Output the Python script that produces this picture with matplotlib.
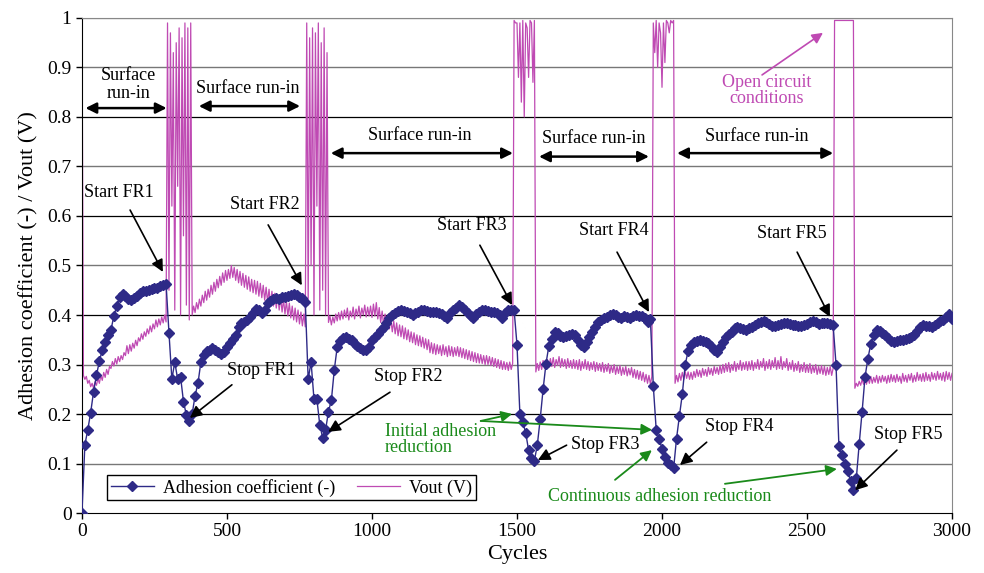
import numpy as np
import matplotlib
matplotlib.use("Agg")
import matplotlib.pyplot as plt

plt.rcParams['font.family'] = ['Liberation Serif', 'DejaVu Serif']

# adhesion coefficient, one reading every 10 cycles (0 ... 3000)
adh_cycles = np.arange(0, 3001, 10)
adhesion = [
    0.000, 0.138, 0.168, 0.203, 0.245, 0.278, 0.307, 0.329, 0.346, 0.360,
    0.370, 0.398, 0.418, 0.437, 0.443, 0.438, 0.432, 0.430, 0.434, 0.438,
    0.445, 0.448, 0.449, 0.450, 0.452, 0.454, 0.455, 0.458, 0.460, 0.463,
    0.364, 0.270, 0.305, 0.270, 0.275, 0.225, 0.198, 0.185, 0.200, 0.237,
    0.262, 0.305, 0.320, 0.327, 0.330, 0.333, 0.330, 0.326, 0.322, 0.325,
    0.335, 0.343, 0.352, 0.360, 0.375, 0.384, 0.386, 0.389, 0.395, 0.405,
    0.412, 0.410, 0.404, 0.410, 0.424, 0.428, 0.432, 0.434, 0.432, 0.436,
    0.437, 0.438, 0.440, 0.443, 0.440, 0.436, 0.434, 0.427, 0.270, 0.305,
    0.230, 0.230, 0.178, 0.152, 0.168, 0.205, 0.228, 0.289, 0.335, 0.348,
    0.353, 0.356, 0.352, 0.349, 0.342, 0.337, 0.333, 0.330, 0.329, 0.335,
    0.350, 0.355, 0.362, 0.370, 0.375, 0.383, 0.393, 0.400, 0.405, 0.408,
    0.410, 0.409, 0.406, 0.404, 0.400, 0.404, 0.407, 0.410, 0.410, 0.408,
    0.407, 0.407, 0.406, 0.404, 0.402, 0.398, 0.394, 0.404, 0.410, 0.415,
    0.420, 0.416, 0.410, 0.404, 0.398, 0.394, 0.402, 0.407, 0.410, 0.410,
    0.408, 0.407, 0.406, 0.405, 0.400, 0.394, 0.405, 0.410, 0.411, 0.410,
    0.340, 0.200, 0.183, 0.162, 0.127, 0.112, 0.106, 0.137, 0.190, 0.250,
    0.302, 0.338, 0.352, 0.366, 0.364, 0.358, 0.356, 0.358, 0.360, 0.362,
    0.360, 0.350, 0.340, 0.336, 0.345, 0.356, 0.365, 0.375, 0.385, 0.390,
    0.393, 0.396, 0.400, 0.402, 0.400, 0.395, 0.393, 0.397, 0.395, 0.393,
    0.397, 0.400, 0.397, 0.397, 0.393, 0.385, 0.391, 0.257, 0.168, 0.150,
    0.130, 0.114, 0.102, 0.096, 0.090, 0.150, 0.196, 0.240, 0.300, 0.327,
    0.340, 0.345, 0.348, 0.349, 0.347, 0.345, 0.343, 0.338, 0.330, 0.326,
    0.335, 0.345, 0.356, 0.362, 0.366, 0.373, 0.376, 0.373, 0.371, 0.370,
    0.374, 0.376, 0.380, 0.383, 0.386, 0.387, 0.385, 0.381, 0.377, 0.377,
    0.380, 0.382, 0.384, 0.384, 0.382, 0.380, 0.379, 0.378, 0.378, 0.380,
    0.382, 0.385, 0.387, 0.385, 0.382, 0.383, 0.384, 0.383, 0.381, 0.380,
    0.300, 0.135, 0.118, 0.100, 0.085, 0.065, 0.046, 0.070, 0.140, 0.205,
    0.275, 0.312, 0.342, 0.360, 0.370, 0.368, 0.364, 0.360, 0.354, 0.348,
    0.346, 0.348, 0.350, 0.350, 0.352, 0.354, 0.356, 0.360, 0.368, 0.375,
    0.380, 0.378, 0.377, 0.376, 0.380, 0.384, 0.387, 0.390, 0.395, 0.403,
    0.391,
]

# output voltage, one reading every 5 cycles (0 ... 3000)
vout_cycles = np.arange(0, 3001, 5)
vout = [
    1.000, 0.278, 0.270, 0.276, 0.262, 0.268, 0.255, 0.262, 0.252, 0.265, 0.258, 0.272, 0.262, 0.278, 0.268, 0.284, 0.274, 0.290, 0.280, 0.296,
    0.292, 0.306, 0.297, 0.312, 0.301, 0.316, 0.306, 0.318, 0.310, 0.324, 0.318, 0.338, 0.322, 0.340, 0.327, 0.343, 0.333, 0.349, 0.338, 0.354,
    0.347, 0.362, 0.351, 0.366, 0.357, 0.372, 0.362, 0.378, 0.366, 0.382, 0.372, 0.390, 0.376, 0.392, 0.380, 0.396, 0.384, 0.400, 0.386, 0.990,
    0.450, 0.970, 0.620, 0.930, 0.410, 0.950, 0.660, 0.980, 0.400, 0.960, 0.560, 0.990, 0.420, 0.980, 0.390, 0.990, 0.400, 0.418, 0.405, 0.425,
    0.412, 0.432, 0.418, 0.440, 0.425, 0.448, 0.430, 0.452, 0.436, 0.460, 0.442, 0.466, 0.448, 0.472, 0.455, 0.478, 0.460, 0.485, 0.466, 0.490,
    0.470, 0.492, 0.474, 0.500, 0.476, 0.496, 0.470, 0.492, 0.465, 0.488, 0.460, 0.484, 0.456, 0.480, 0.452, 0.477, 0.448, 0.472, 0.445, 0.470,
    0.442, 0.468, 0.438, 0.464, 0.435, 0.460, 0.430, 0.456, 0.426, 0.452, 0.422, 0.448, 0.418, 0.444, 0.414, 0.440, 0.410, 0.436, 0.406, 0.432,
    0.402, 0.428, 0.398, 0.424, 0.394, 0.418, 0.390, 0.414, 0.386, 0.410, 0.382, 0.406, 0.378, 0.402, 0.376, 0.990, 0.420, 0.960, 0.500, 0.980,
    0.400, 0.970, 0.620, 0.990, 0.410, 0.950, 0.450, 0.980, 0.400, 0.930, 0.385, 0.398, 0.380, 0.396, 0.384, 0.402, 0.388, 0.405, 0.390, 0.408,
    0.392, 0.410, 0.395, 0.414, 0.390, 0.408, 0.396, 0.416, 0.392, 0.412, 0.398, 0.418, 0.394, 0.414, 0.400, 0.420, 0.396, 0.416, 0.398, 0.418,
    0.395, 0.422, 0.398, 0.425, 0.392, 0.415, 0.385, 0.408, 0.380, 0.402, 0.376, 0.398, 0.372, 0.392, 0.366, 0.388, 0.362, 0.384, 0.358, 0.380,
    0.356, 0.378, 0.352, 0.374, 0.350, 0.370, 0.346, 0.366, 0.344, 0.364, 0.340, 0.360, 0.338, 0.358, 0.336, 0.355, 0.333, 0.352, 0.330, 0.350,
    0.324, 0.344, 0.322, 0.342, 0.320, 0.340, 0.322, 0.338, 0.318, 0.340, 0.320, 0.336, 0.316, 0.338, 0.318, 0.336, 0.316, 0.334, 0.318, 0.336,
    0.316, 0.334, 0.314, 0.332, 0.312, 0.330, 0.310, 0.328, 0.308, 0.326, 0.306, 0.324, 0.304, 0.322, 0.303, 0.320, 0.302, 0.318, 0.300, 0.318,
    0.300, 0.316, 0.298, 0.314, 0.296, 0.312, 0.294, 0.310, 0.292, 0.308, 0.290, 0.306, 0.290, 0.304, 0.288, 0.305, 0.290, 0.302, 0.995, 0.990,
    0.990, 0.880, 0.990, 0.830, 0.995, 0.800, 0.990, 0.980, 0.880, 0.995, 0.990, 0.870, 0.995, 0.285, 0.302, 0.288, 0.305, 0.290, 0.308, 0.292,
    0.292, 0.310, 0.294, 0.312, 0.296, 0.314, 0.294, 0.310, 0.298, 0.316, 0.294, 0.312, 0.296, 0.310, 0.292, 0.312, 0.294, 0.308, 0.292, 0.310,
    0.292, 0.308, 0.290, 0.310, 0.288, 0.306, 0.292, 0.310, 0.290, 0.306, 0.288, 0.304, 0.290, 0.306, 0.286, 0.304, 0.288, 0.302, 0.286, 0.304,
    0.284, 0.300, 0.286, 0.302, 0.282, 0.298, 0.284, 0.300, 0.280, 0.296, 0.282, 0.298, 0.278, 0.294, 0.280, 0.296, 0.277, 0.292, 0.279, 0.294,
    0.274, 0.290, 0.272, 0.288, 0.270, 0.286, 0.268, 0.284, 0.265, 0.280, 0.262, 0.278, 0.260, 0.276, 0.990, 0.930, 0.995, 0.900, 0.990, 0.970,
    0.860, 0.990, 0.910, 0.995, 0.990, 0.970, 0.995, 0.990, 0.995, 0.262, 0.278, 0.265, 0.282, 0.268, 0.284, 0.270, 0.286, 0.272, 0.285, 0.270,
    0.284, 0.270, 0.286, 0.274, 0.290, 0.276, 0.288, 0.274, 0.292, 0.278, 0.290, 0.276, 0.294, 0.280, 0.292, 0.278, 0.296, 0.282, 0.294, 0.280,
    0.298, 0.282, 0.300, 0.284, 0.302, 0.286, 0.304, 0.284, 0.300, 0.288, 0.306, 0.286, 0.302, 0.290, 0.308, 0.288, 0.304, 0.290, 0.306, 0.288,
    0.306, 0.290, 0.308, 0.288, 0.304, 0.292, 0.310, 0.290, 0.306, 0.294, 0.312, 0.288, 0.306, 0.292, 0.310, 0.290, 0.308, 0.294, 0.314, 0.290,
    0.308, 0.292, 0.316, 0.290, 0.306, 0.294, 0.312, 0.288, 0.304, 0.290, 0.308, 0.286, 0.302, 0.288, 0.306, 0.284, 0.300, 0.286, 0.304, 0.284,
    0.300, 0.284, 0.302, 0.282, 0.298, 0.284, 0.300, 0.280, 0.296, 0.282, 0.298, 0.280, 0.296, 0.278, 0.294, 0.280, 0.296, 0.278, 0.292, 0.995,
    0.995, 0.995, 0.995, 0.995, 0.995, 0.995, 0.995, 0.995, 0.995, 0.995, 0.995, 0.995, 0.995, 0.252, 0.262, 0.256, 0.266, 0.258, 0.270, 0.260,
    0.272, 0.260, 0.274, 0.262, 0.276, 0.262, 0.274, 0.264, 0.278, 0.262, 0.276, 0.264, 0.278, 0.266, 0.276, 0.262, 0.278, 0.264, 0.280, 0.266,
    0.278, 0.264, 0.280, 0.266, 0.276, 0.262, 0.282, 0.266, 0.278, 0.264, 0.280, 0.268, 0.282, 0.264, 0.278, 0.266, 0.284, 0.268, 0.280, 0.266,
    0.282, 0.266, 0.284, 0.268, 0.280, 0.266, 0.284, 0.270, 0.282, 0.268, 0.286, 0.270, 0.282, 0.268, 0.284, 0.266, 0.286, 0.270, 0.284, 0.268,
    0.282,
]

navy = '#2e2a87'
pink = '#bf4ab3'
green = '#1a8a1a'

fig = plt.figure(figsize=(9.84, 5.73), dpi=100)
ax = fig.add_axes([0.0833, 0.1047, 0.8842, 0.8639])

# grid lines: even tenths darker
for i in range(1, 11):
    ax.axhline(i / 10, color='black' if i % 2 == 0 and i < 10 else '#777777',
               lw=0.9 if i % 2 == 0 else 1.0, zorder=0)

ax.plot(vout_cycles, vout, color=pink, lw=0.9, label='Vout (V)', zorder=2)
ax.plot(adh_cycles, adhesion, color=navy, lw=1.0, marker='D', markersize=5.2,
        markeredgecolor=navy, label='Adhesion coefficient (-)', zorder=3)

ax.set_xlim(0, 3000)
ax.set_ylim(0, 1)
ax.set_xticks(range(0, 3001, 500))
ax.set_yticks([i / 10 for i in range(11)])
ax.set_yticklabels(['0', '0.1', '0.2', '0.3', '0.4', '0.5', '0.6', '0.7', '0.8', '0.9', '1'])
ax.tick_params(labelsize=14, direction='out', length=4, width=1)
ax.set_xlabel('Cycles', fontsize=16, labelpad=3)
ax.set_ylabel('Adhesion coefficient (-) / Vout (V)', fontsize=16, labelpad=6)
for s in ['top', 'right']:
    ax.spines[s].set_color('#888888')
for s in ['left', 'bottom']:
    ax.spines[s].set_color('black')

# legend, handles in plotting order reversed
h, l = ax.get_legend_handles_labels()
leg = ax.legend(h[::-1], l[::-1], ncol=2, loc='lower left',
                bbox_to_anchor=(0.029, 0.026), borderaxespad=0,
                fontsize=13, fancybox=False, edgecolor='black',
                framealpha=1, handlelength=2.4, handletextpad=0.5,
                columnspacing=1.2, borderpad=0.2)
leg.get_frame().set_linewidth(1.0)

# surface run-in spans
dbl = dict(arrowstyle='<|-|>', color='black', lw=1.8, mutation_scale=16,
           shrinkA=0, shrinkB=0)
runin = [((12, 292), 0.818, 159, 0.866, 'Surface\nrun-in'),
         ((403, 752), 0.822, 573, 0.857, 'Surface run-in'),
         ((858, 1486), 0.727, 1163, 0.762, 'Surface run-in'),
         ((1576, 1955), 0.72, 1766, 0.757, 'Surface run-in'),
         ((2052, 2590), 0.727, 2327, 0.761, 'Surface run-in')]
for (x0, x1), y, tx, ty, txt in runin:
    ax.annotate('', xy=(x1, y), xytext=(x0, y), arrowprops=dbl)
    ax.text(tx, ty, txt, fontsize=13, ha='center', va='center', linespacing=1.05)

# start / stop labels
one = dict(arrowstyle='-|>', color='black', lw=1.2, mutation_scale=18,
           shrinkA=0, shrinkB=0)
labels = [('Start FR1', 128, 0.648, 166, 0.612, 279, 0.487),
          ('Start FR2', 631, 0.624, 642, 0.582, 758, 0.46),
          ('Start FR3', 1345, 0.58, 1372, 0.541, 1483, 0.42),
          ('Start FR4', 1834, 0.57, 1845, 0.527, 1955, 0.406),
          ('Start FR5', 2448, 0.564, 2466, 0.527, 2579, 0.396),
          ('Stop FR1', 617, 0.287, 517, 0.259, 372, 0.192),
          ('Stop FR2', 1124, 0.275, 1062, 0.244, 849, 0.164),
          ('Stop FR3', 1803, 0.139, 1671, 0.137, 1572, 0.107),
          ('Stop FR4', 2265, 0.174, 2154, 0.143, 2062, 0.097),
          ('Stop FR5', 2849, 0.159, 2810, 0.127, 2666, 0.046)]
for txt, tx, ty, ax0, ay0, ax1, ay1 in labels:
    ax.text(tx, ty, txt, fontsize=13, ha='center', va='center')
    ax.annotate('', xy=(ax1, ay1), xytext=(ax0, ay0), arrowprops=one)

# green notes
grn = dict(arrowstyle='-|>', color=green, lw=1.3, mutation_scale=16,
           shrinkA=0, shrinkB=0)
ax.text(1045, 0.148, 'Initial adhesion\nreduction', color=green, fontsize=13,
        ha='left', va='center', linespacing=0.9)
ax.annotate('', xy=(1483, 0.2), xytext=(1375, 0.186), arrowprops=grn)
ax.annotate('', xy=(1966, 0.168), xytext=(1375, 0.186), arrowprops=grn)
ax.text(1993, 0.033, 'Continuous adhesion reduction', color=green, fontsize=13,
        ha='center', va='center')
ax.annotate('', xy=(1965, 0.127), xytext=(1838, 0.067), arrowprops=grn)
ax.annotate('', xy=(2603, 0.089), xytext=(2217, 0.059), arrowprops=grn)

# open circuit note
ax.text(2362, 0.853, 'Open circuit\nconditions', color=pink, fontsize=13,
        ha='center', va='center', linespacing=0.9)
ax.annotate('', xy=(2555, 0.97), xytext=(2345, 0.885),
            arrowprops=dict(arrowstyle='-|>', color=pink, lw=1.2,
                            mutation_scale=16, shrinkA=0, shrinkB=0))

fig.savefig('out.png', dpi=100)
